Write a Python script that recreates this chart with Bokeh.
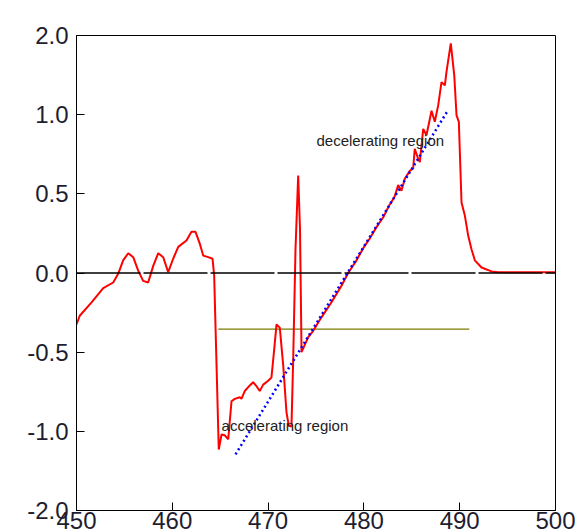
from bokeh.plotting import figure
from bokeh.models import Label, FixedTicker, Span
from bokeh.embed import file_html
from bokeh.resources import INLINE

# red series (x, value in axis units; tick labels are non-linear)
bubble_x = [450.0, 450.34, 451.57, 452.79, 453.83, 454.35, 454.87, 455.40, 455.92, 456.44,
            456.96, 457.48, 458.01, 458.53, 459.05, 459.57, 460.09, 460.62, 461.48, 462.00,
            462.42, 462.87, 463.23, 463.75, 464.20, 464.37, 464.85, 465.14, 465.48, 465.84,
            466.18, 466.52, 467.05, 467.22, 467.57, 468.09, 468.44, 468.79, 469.13, 469.49,
            470.01, 470.35, 470.64, 470.88, 471.22, 471.58, 471.92, 472.16, 472.44, 472.62,
            472.86, 473.14, 473.33, 473.49, 474.19, 474.71, 475.57, 476.62, 477.66, 478.36,
            479.23, 479.96, 480.58, 481.32, 482.05, 482.67, 483.19, 483.58, 483.92, 484.27,
            484.79, 485.14, 485.31, 485.67, 485.84, 486.19, 486.53, 487.06, 487.40, 487.76,
            488.10, 488.45, 488.62, 489.07, 489.43, 489.67, 489.91, 490.19, 490.53, 490.89,
            491.23, 491.58, 492.28, 493.32, 494.02, 500.0]
bubble_y = [-0.65, -0.54, -0.37, -0.19, -0.12, -0.01, 0.16, 0.25, 0.20, 0.03,
            -0.10, -0.12, 0.09, 0.25, 0.20, 0.01, 0.18, 0.33, 0.41, 0.52,
            0.52, 0.37, 0.22, 0.20, 0.18, -0.03, -2.23, -2.04, -2.05, -2.10,
            -1.62, -1.59, -1.57, -1.59, -1.49, -1.42, -1.38, -1.43, -1.49, -1.41,
            -1.36, -1.32, -0.96, -0.65, -0.69, -1.17, -1.76, -1.93, -1.94, -1.09,
            0.30, 1.23, 0.56, -1.00, -0.81, -0.73, -0.56, -0.37, -0.16, 0.00,
            0.16, 0.32, 0.43, 0.58, 0.71, 0.86, 0.96, 1.11, 1.04, 1.19,
            1.29, 1.32, 1.57, 1.44, 1.40, 1.82, 1.74, 2.05, 1.91, 2.12,
            2.41, 2.37, 2.54, 2.90, 2.50, 1.99, 1.91, 0.89, 0.73, 0.47,
            0.30, 0.16, 0.07, 0.02, 0.01, 0.01]

trend_x = [466.6, 488.7]
trend_y = [-2.29, 2.04]

level_x = [464.8, 491.0]
level_y = [-0.71, -0.71]

x_ticks = [450, 460, 470, 480, 490, 500]
y_ticks = [-3, -2, -1, 0, 1, 2, 3]
y_tick_labels = ["-2.0", "-1.0", "-0.5", "0.0", "0.5", "1.0", "2.0"]

FONT = "Liberation Sans"

p = figure(width=578, height=556, x_range=(450, 500), y_range=(-3, 3),
           output_backend="svg", toolbar_location=None,
           min_border_left=76, min_border_right=23, min_border_top=60, min_border_bottom=21,
           styles={"margin-top": "-25px", "margin-bottom": "-25px", "margin-right": "-20px"})
p.grid.visible = False
p.background_fill_color = "white"
p.border_fill_color = "white"
p.outline_line_color = "black"
p.outline_line_width = 1

p.xaxis.ticker = FixedTicker(ticks=x_ticks)
p.yaxis.ticker = FixedTicker(ticks=y_ticks)
p.yaxis.major_label_overrides = {t: l for t, l in zip(y_ticks, y_tick_labels)}
for ax in (p.xaxis, p.yaxis):
    ax.major_tick_in = 8
    ax.major_tick_out = 0
    ax.minor_tick_in = 0
    ax.minor_tick_out = 0
    ax.axis_line_color = "black"
    ax.major_tick_line_color = "black"
    ax.major_label_text_font = FONT
    ax.major_label_text_font_size = "24px"
    ax.major_label_text_color = "#1e1e30"
p.yaxis.major_label_standoff = 8
p.xaxis.major_label_standoff = 1

zero = Span(location=0, dimension="width", line_color="black", line_width=1.3,
            line_dash="64 3")
p.add_layout(zero)

p.line(level_x, level_y, line_color="#7a7a00", line_width=1.3)
p.line(bubble_x, bubble_y, line_color="#ff0000", line_width=2)
p.line(trend_x, trend_y, line_color="#0000ff", line_width=2.5, line_dash="2 3")

p.add_layout(Label(x=475.05, y=1.67, text="decelerating region", text_font=FONT,
                   text_font_size="15px", text_color="#222222", text_baseline="middle"))
p.add_layout(Label(x=465.14, y=-1.92, text="accelerating region", text_font=FONT,
                   text_font_size="15px", text_color="#222222", text_baseline="middle"))
p.add_layout(Label(x=474.1, y=3.42, text="Bubble", text_font=FONT,
                   text_font_size="30px", text_font_style="bold", text_color="#ff0000",
                   text_align="center", text_baseline="alphabetic"))

open("out.html", "w").write(file_html(p, INLINE))
